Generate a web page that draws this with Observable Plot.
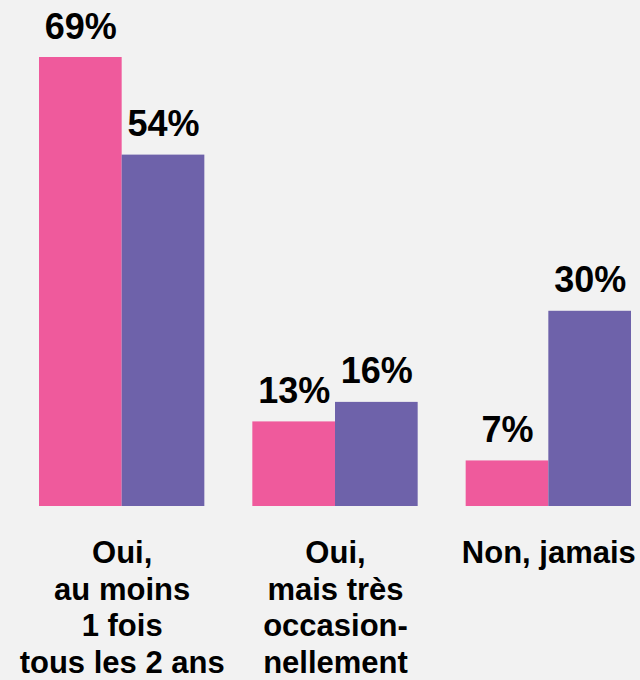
<!DOCTYPE html>
<html>
<head>
<meta charset="utf-8">
<script src="https://cdn.jsdelivr.net/npm/d3@7"></script>
<script src="https://cdn.jsdelivr.net/npm/@observablehq/plot@0.6"></script>
<style>
  html, body { margin: 0; padding: 0; background: #f2f2f2; }
  #chart svg { display: block; }
</style>
</head>
<body>
<div id="chart"></div>
<script>
const categories = [
  "Oui,\nau moins\n1 fois\ntous les 2 ans",
  "Oui,\nmais très\noccasion-\nnellement",
  "Non, jamais"
];
const series = ["Série 1", "Série 2"];
const serie1Values = [69, 13, 7];
const serie2Values = [54, 16, 30];
const colors = ["#ef5a9c", "#6e62aa"];

const data = [];
categories.forEach((c, i) => {
  data.push({cat: c, series: series[0], value: serie1Values[i]});
  data.push({cat: c, series: series[1], value: serie2Values[i]});
});

const chart = Plot.plot({
  width: 640,
  height: 680,
  marginLeft: 39,
  marginRight: 9,
  marginTop: 57,
  marginBottom: 174,
  style: {background: "#f2f2f2", fontFamily: "'Liberation Sans', Arial, sans-serif"},
  fx: {domain: categories, paddingInner: 0.225, paddingOuter: 0, round: false, label: null},
  x: {domain: series, padding: 0, round: false, axis: null},
  y: {domain: [0, 69], axis: null},
  color: {domain: series, range: colors},
  marks: [
    Plot.barY(data, {fx: "cat", x: "series", y: "value", fill: "series", inset: 0}),
    Plot.text(data, {
      fx: "cat", x: "series", y: "value",
      text: d => d.value + "%",
      lineAnchor: "bottom", dy: -19,
      fontSize: 36, fontWeight: "bold", fill: "#000"
    }),
    Plot.axisFx({
      anchor: "bottom", tickSize: 0, tickPadding: 30,
      fontSize: 31, fontWeight: "bold", lineHeight: 1.19,
      color: "#000", label: null
    })
  ]
});
document.getElementById("chart").append(chart);
</script>
</body>
</html>
